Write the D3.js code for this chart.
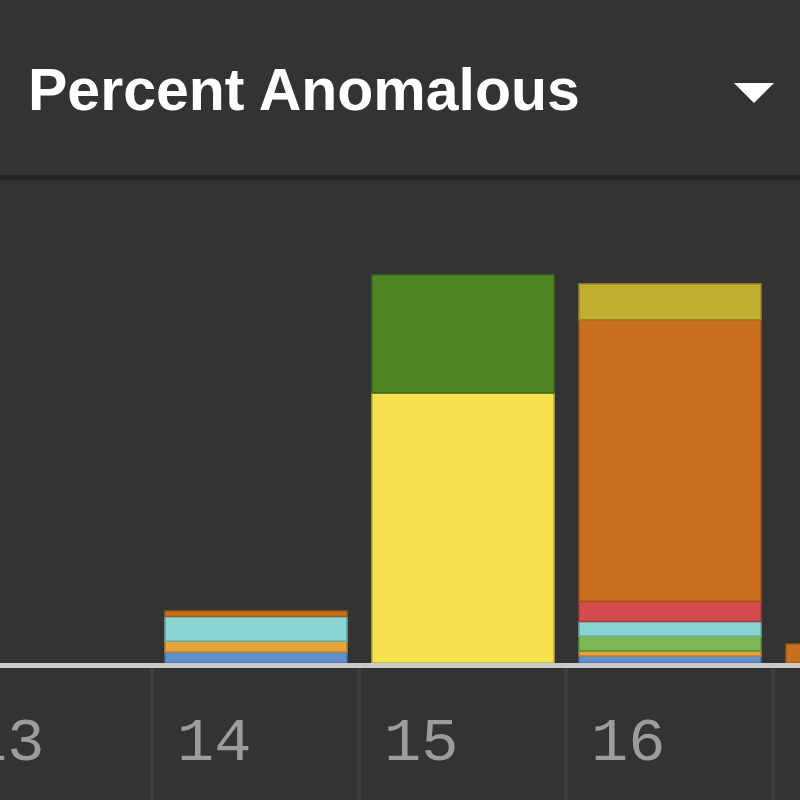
<!DOCTYPE html>
<html>
<head>
<meta charset="utf-8">
<script src="https://cdn.jsdelivr.net/npm/d3@7"></script>
<style>
  html, body { margin: 0; padding: 0; background: #333333; overflow: hidden; }
  svg { display: block; }
</style>
</head>
<body>
<svg id="chart" width="800" height="800"></svg>
<script>
// ---- data ----
const title = "Percent Anomalous";
const categories = ["13", "14", "15", "16", "17"];
const tickLabels = ["13", "14", "15", "16", "17"];
const seriesKeys = ["blue", "orange", "green", "cyan", "red", "darkorange", "olive", "yellow", "darkgreen"];
const seriesColors = ["#5f90cc", "#e8a43f", "#7bb852", "#86d5d1", "#d44c4d", "#c8701f", "#c2ae30", "#f6e04d", "#4f8624"];
const blueValues       = [0, 0.14, 0,    0.09,  0];
const orangeValues     = [0, 0.14, 0,    0.065, 0];
const greenValues      = [0, 0,    0,    0.19,  0];
const cyanValues       = [0, 0.32, 0,    0.19,  0];
const redValues        = [0, 0,    0,    0.26,  0];
const darkorangeValues = [0, 0.07, 0,    3.63,  0.245];
const oliveValues      = [0, 0,    0,    0.46,  0];
const yellowValues     = [0, 0,    3.48, 0,     0];
const darkgreenValues  = [0, 0,    1.52, 0,     0];
const yDomain = [0, 6];

const seriesValues = [blueValues, orangeValues, greenValues, cyanValues, redValues,
                      darkorangeValues, oliveValues, yellowValues, darkgreenValues];

// table built for the stack layout
const table = categories.map((c, i) => {
  const row = { category: c };
  seriesKeys.forEach((k, j) => { row[k] = seriesValues[j][i]; });
  return row;
});

// ---- layout ----
const svg = d3.select("#chart");
const baseline = 663;

svg.append("rect").attr("x", 0).attr("y", 0).attr("width", 800).attr("height", 800).attr("fill", "#333333");

// header
svg.append("text")
  .attr("x", 28).attr("y", 110)
  .attr("font-family", "'Liberation Sans', Arial, sans-serif")
  .attr("font-weight", "bold")
  .attr("font-size", 59)
  .attr("fill", "#ffffff")
  .text(title);

svg.append("path")
  .attr("d", "M734,83 L774,83 L754,103 Z")
  .attr("fill", "#ffffff");

svg.append("rect").attr("x", 0).attr("y", 175).attr("width", 800).attr("height", 5).attr("fill", "#242424");

// scales
const x = d3.scaleBand().domain(categories).range([-55, 980]).paddingInner(0).paddingOuter(0);
const y = d3.scaleLinear().domain(yDomain).range([baseline, baseline - 6 * 77.6]);
const color = d3.scaleOrdinal().domain(seriesKeys).range(seriesColors);

const stack = d3.stack().keys(seriesKeys);
const layers = stack(table);

const barOffset = 13, barWidth = 182;

svg.append("g").selectAll("g")
  .data(layers)
  .join("g")
  .attr("fill", d => color(d.key))
  .attr("stroke", d => d3.color(color(d.key)).darker(0.7))
  .attr("stroke-width", 1.5)
  .selectAll("rect")
  .data(d => d.filter(s => s[1] - s[0] > 0))
  .join("rect")
  .attr("x", d => x(d.data.category) + barOffset)
  .attr("width", barWidth)
  .attr("y", d => y(d[1]))
  .attr("height", d => y(d[0]) - y(d[1]));

// axis baseline
svg.append("rect").attr("x", 0).attr("y", baseline).attr("width", 800).attr("height", 5).attr("fill", "#c9c9c9");

// separators and tick labels
const axisG = svg.append("g");
axisG.selectAll("rect.sep")
  .data(categories)
  .join("rect")
  .attr("class", "sep")
  .attr("x", d => x(d) + x.bandwidth() - 2)
  .attr("y", baseline + 5)
  .attr("width", 4)
  .attr("height", 800 - baseline - 5)
  .attr("fill", "#3d3d3d");

axisG.selectAll("text")
  .data(categories)
  .join("text")
  .attr("x", d => x(d) + 25)
  .attr("y", 760)
  .attr("font-family", "'Liberation Mono', 'Courier New', monospace")
  .attr("font-size", 62)
  .attr("fill", "#9c9c9c")
  .text((d, i) => tickLabels[i]);
</script>
</body>
</html>
